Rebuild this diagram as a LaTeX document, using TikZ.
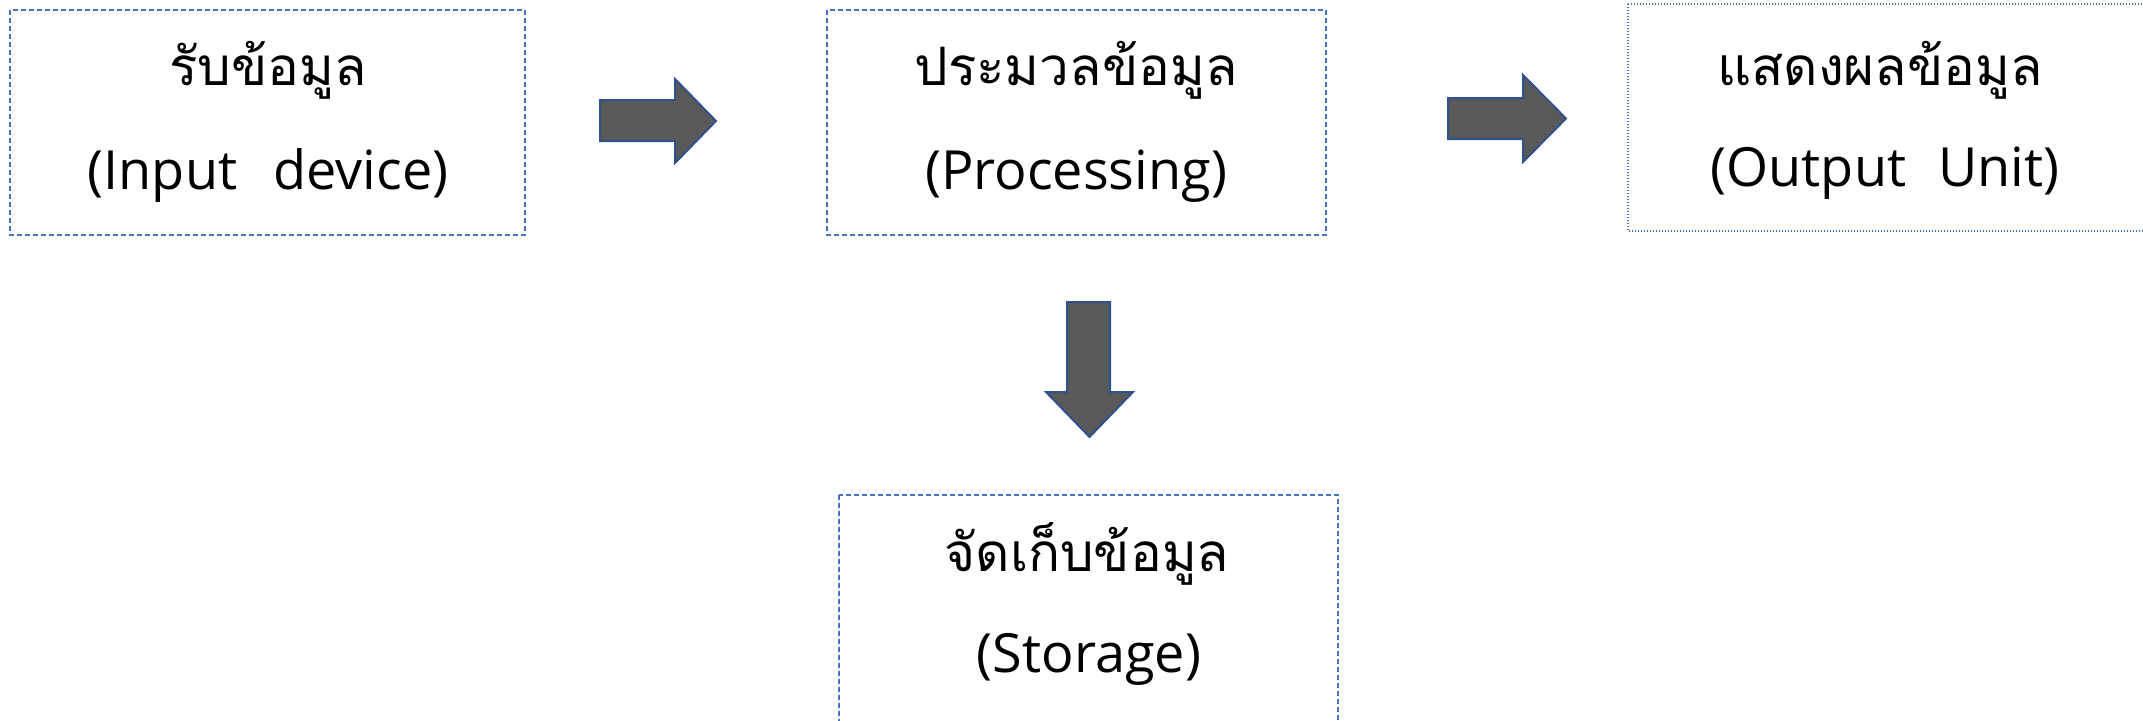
\documentclass[tikz,border=0pt]{standalone}
\usepackage{fontspec}
\setmainfont{Open Sans}
\newfontfamily\thaifont[Script=Thai]{Loma}
\definecolor{boxblue}{HTML}{4472C4}
\definecolor{arrfill}{HTML}{595959}
\definecolor{arrline}{HTML}{2F528F}
\begin{document}
\begin{tikzpicture}[x=1pt,y=-1pt,
  boxd/.style={draw=boxblue, line width=1.5pt, dash pattern=on 5pt off 3pt, inner sep=0pt},
  boxdot/.style={draw=boxblue, line width=1.2pt, dash pattern=on 1.2pt off 1.8pt, inner sep=0pt},
  thait/.style={font=\thaifont\fontsize{53}{60}\selectfont, anchor=base, inner sep=0pt},
  latt/.style={font=\fontsize{54}{60}\selectfont, anchor=base, inner sep=0pt},
  blockarrow/.style={fill=arrfill, draw=arrline, line width=2pt, line join=miter}]
\useasboundingbox (0,0) rectangle (2143,720);
% boxes
\draw[boxd] (10,10) rectangle (525,235);
\draw[boxd] (827,10) rectangle (1326,235);
\draw[boxdot] (1628,4) rectangle (2150,231);
\draw[boxd] (839,495) rectangle (1338,730);
% texts
\node[thait] (t1) at (268,85) {รับข้อมูล};
\node[latt] (l1) at (268,189) {(Input\hspace{36pt}device)};
\node[thait] (t2) at (1076,85) {ประมวลข้อมูล};
\node[latt] (l2) at (1076,189) {(Processing)};
\node[thait] (t3) at (1880,85) {แสดงผลข้อมูล};
\node[latt] (l3) at (1885,186) {(Output\hspace{32pt}Unit)};
\node[thait] (t4) at (1087,571) {จัดเก็บข้อมูล};
\node[latt] (l4) at (1089,672) {(Storage)};
% block arrows
\draw[blockarrow] (600,100) -- (675,100) -- (675,79) -- (716,121) -- (675,163) -- (675,141) -- (600,141) -- cycle;
\draw[blockarrow] (1448,98) -- (1523,98) -- (1523,75) -- (1566,118.5) -- (1523,162) -- (1523,139) -- (1448,139) -- cycle;
\draw[blockarrow] (1067,302) -- (1110,302) -- (1110,392) -- (1133,392) -- (1089.5,437) -- (1046,392) -- (1067,392) -- cycle;
\end{tikzpicture}
\end{document}
